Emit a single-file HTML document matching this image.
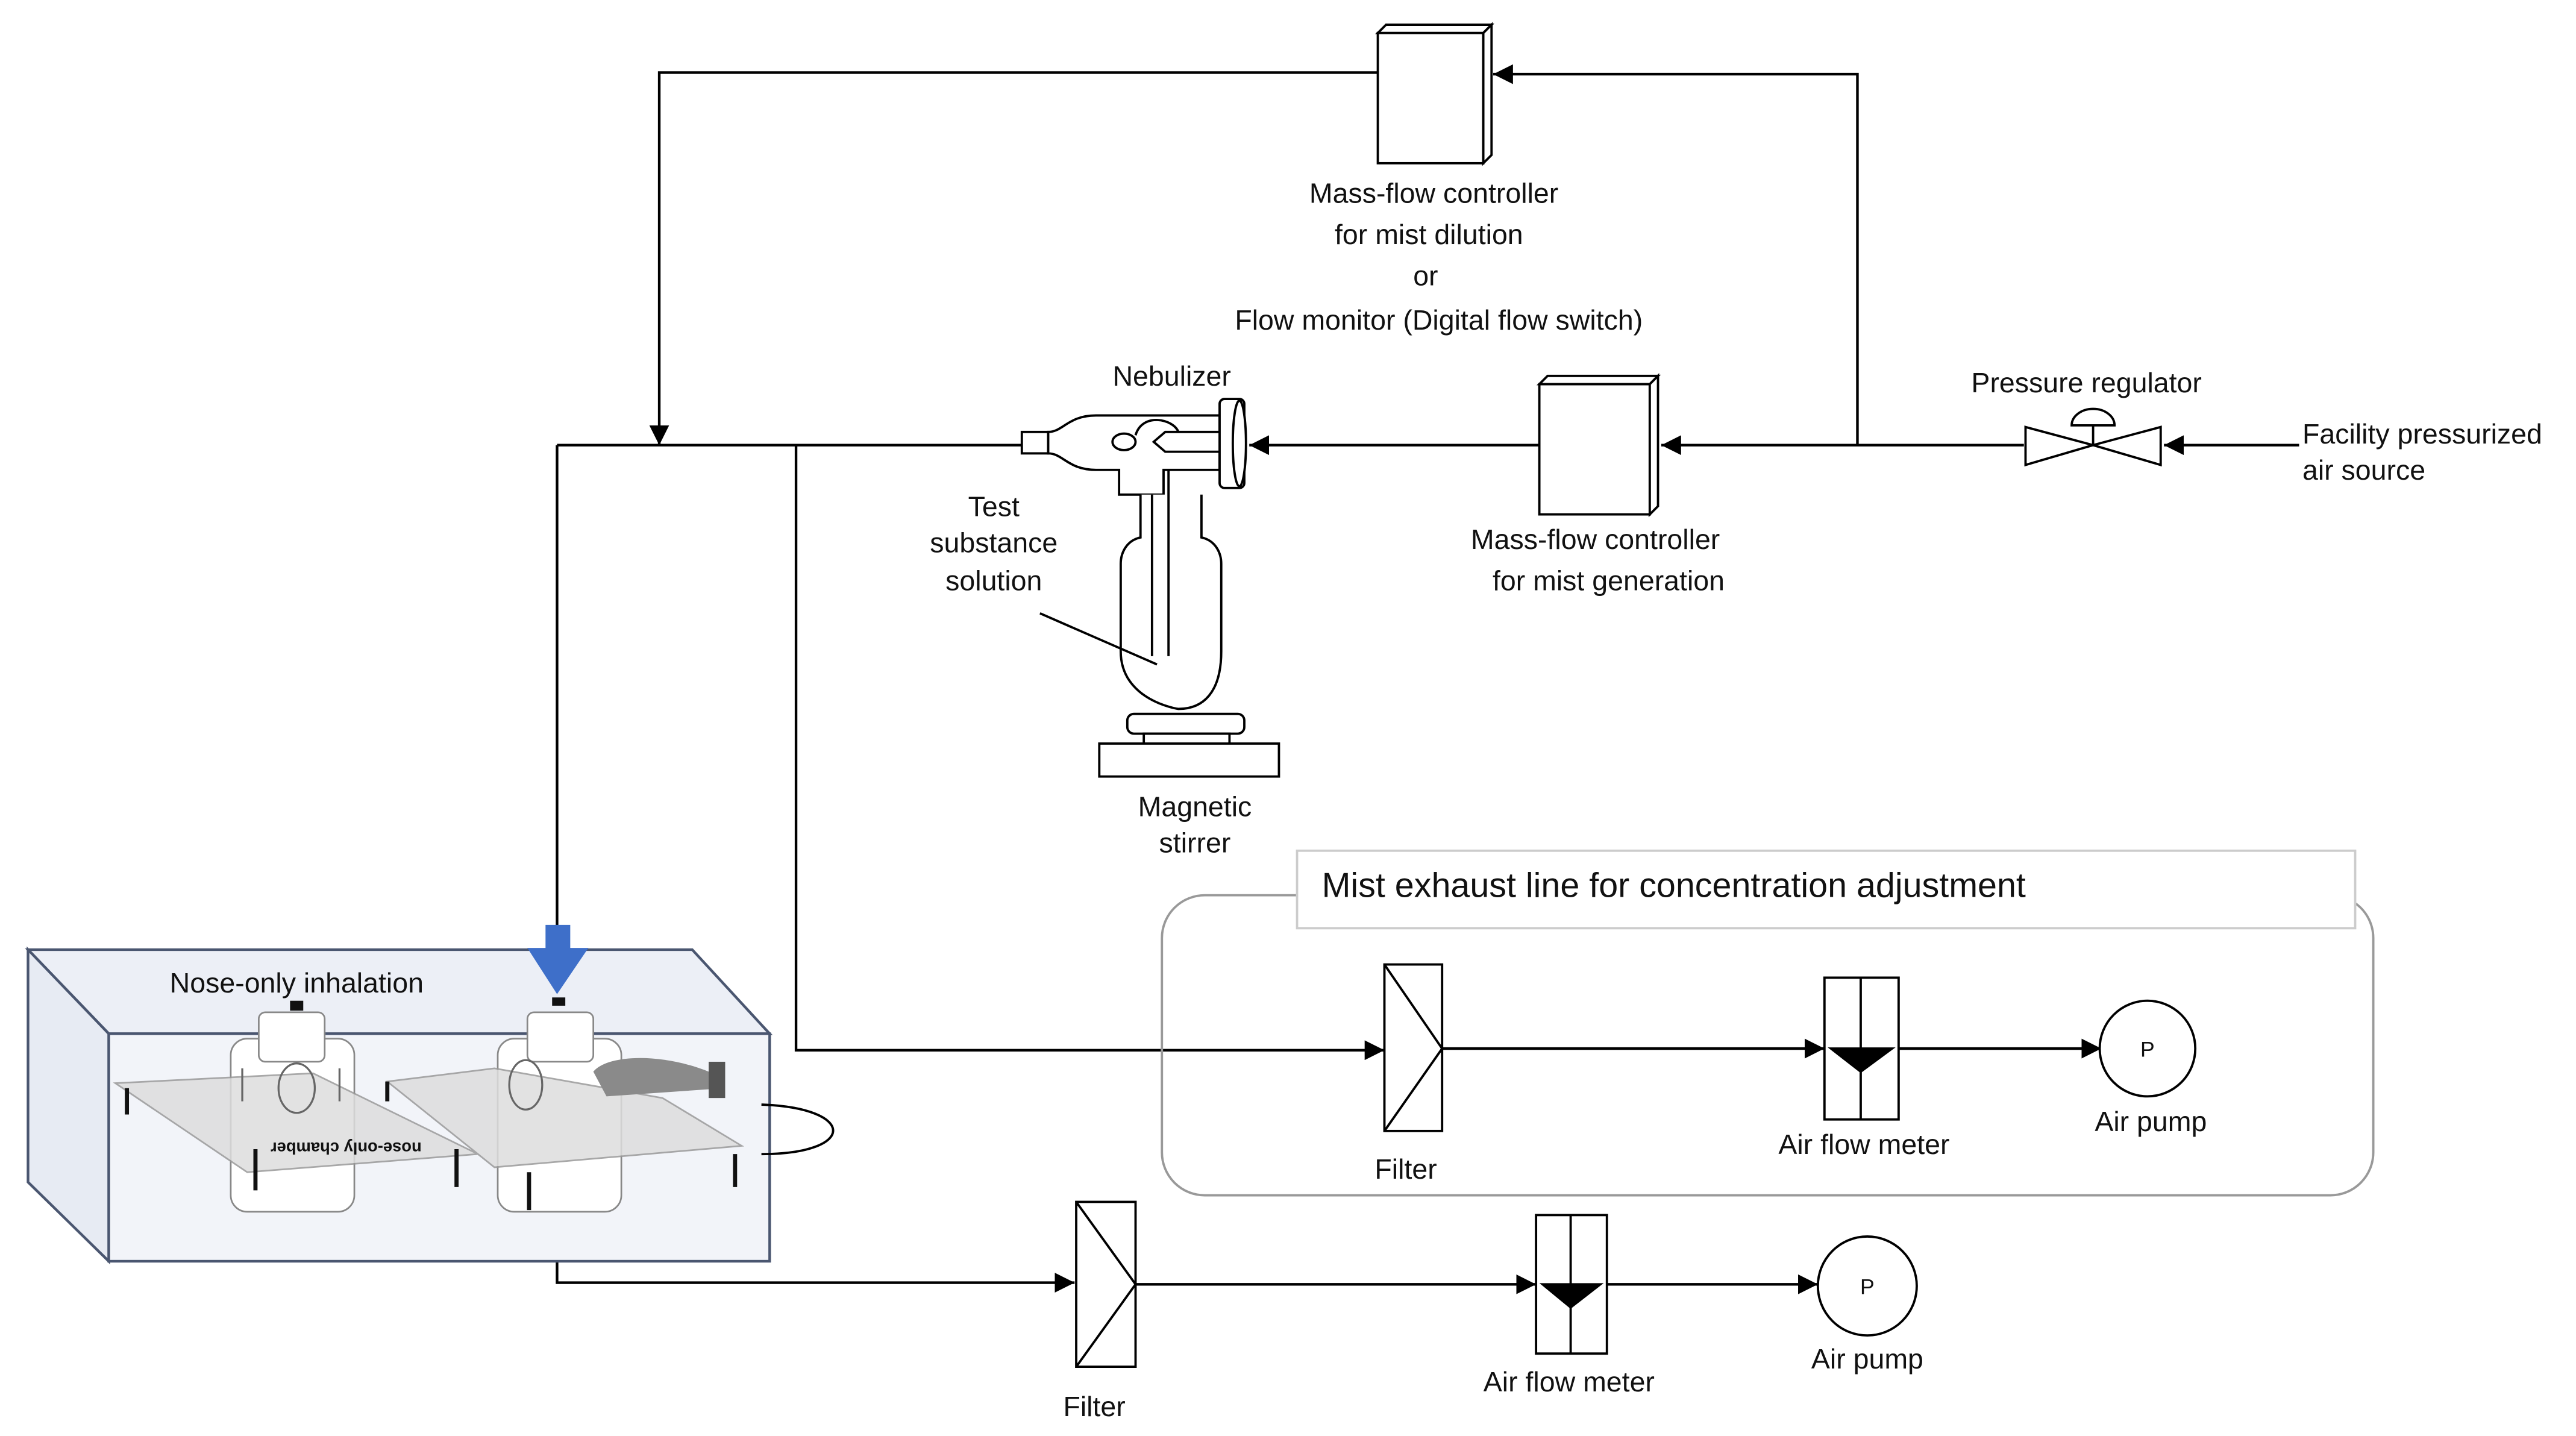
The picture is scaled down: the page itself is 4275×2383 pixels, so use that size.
<!DOCTYPE html>
<html><head><meta charset="utf-8"><style>
html,body{margin:0;padding:0;background:#fff}
svg{display:block}
text{font-family:"Liberation Sans",Arial,sans-serif;fill:#111}
</style></head><body>
<svg width="4275" height="2383" viewBox="0 0 1563 871" preserveAspectRatio="none" xmlns="http://www.w3.org/2000/svg">
<defs>
<marker id="a" viewBox="0 0 10 10" refX="10" refY="5" markerWidth="12" markerHeight="12" markerUnits="userSpaceOnUse" orient="auto"><path d="M0,0 L10,5 L0,10 z" fill="#000"/></marker>
</defs>
<g stroke="#000" stroke-width="1.6" fill="none">
<!-- top loop -->
<polyline points="836,44 400,44 400,270" marker-end="url(#a)"/>
<polyline points="1127,270 1127,45 906,45" marker-end="url(#a)"/>
<line x1="1395" y1="270" x2="1313" y2="270" marker-end="url(#a)"/>
<line x1="1228" y1="270" x2="1008" y2="270" marker-end="url(#a)"/>
<line x1="934" y1="270" x2="758" y2="270" marker-end="url(#a)"/>
<line x1="620" y1="270" x2="338" y2="270"/>
<line x1="338" y1="270" x2="338" y2="562"/>
<polyline points="483,270 483,637 840,637" marker-end="url(#a)"/>
<line x1="875" y1="636" x2="1107" y2="636" marker-end="url(#a)"/>
<line x1="1152" y1="636" x2="1275" y2="636" marker-end="url(#a)"/>
<polyline points="338,745 338,778 652,778" marker-end="url(#a)"/>
<line x1="689" y1="779" x2="932" y2="779" marker-end="url(#a)"/>
<line x1="975" y1="779" x2="1103" y2="779" marker-end="url(#a)"/>
</g>
<!-- MFC boxes -->
<g stroke="#000" stroke-width="1.4" fill="#fff">
<rect x="836" y="20" width="64" height="79"/>
<polygon points="836,20 841,15 905,15 900,20" />
<polygon points="900,20 905,15 905,94 900,99"/>
<rect x="934" y="233" width="67" height="79"/>
<polygon points="934,233 939,228 1006,228 1001,233"/>
<polygon points="1001,233 1006,228 1006,307 1001,312"/>
</g>
<!-- regulator -->
<g stroke="#000" stroke-width="1.4" fill="#fff">
<polygon points="1229,259 1229,282 1270,270"/>
<polygon points="1311,259 1311,282 1270,270"/>
<line x1="1270" y1="270" x2="1270" y2="258"/>
<path d="M1257,258 A13,10 0 0 1 1283,258 Z"/>
</g>
<!-- nebulizer -->
<g stroke="#000" stroke-width="1.4" fill="#fff">
<rect x="620" y="262" width="16" height="13"/>
<path d="M636,262 C645,262 648,252 665,252 L740,252 L740,285 L706,285 L706,300 L679,300 L679,285 L665,285 C648,285 645,275 636,275 Z"/>
<ellipse cx="682" cy="268" rx="7" ry="5"/>
<path d="M740,262 L707,262 L700,268 L707,274 L740,274"/>
<path d="M689,264 C693,250 712,254 715,262" fill="none"/>
<rect x="740" y="242" width="15" height="54" rx="3"/>
<ellipse cx="752" cy="269" rx="4" ry="26"/>
<path d="M692,300 L692,326 C683,328 680,336 680,342 L680,395 C680,425 715,430 715,430 C730,430 741,420 741,395 L741,342 C741,336 738,328 729,326 L729,300"/>
<line x1="699" y1="300" x2="699" y2="398"/>
<line x1="709" y1="285" x2="709" y2="398"/>
<rect x="684" y="433" width="71" height="12" rx="4"/>
<rect x="694" y="445" width="52" height="6"/>
<rect x="667" y="451" width="109" height="20"/>
</g>
<line x1="631" y1="372" x2="702" y2="403" stroke="#000" stroke-width="1.4"/>
<!-- exhaust box -->
<rect x="705" y="543" width="735" height="182" rx="26" fill="none" stroke="#999" stroke-width="1.4"/>
<rect x="787" y="516" width="642" height="47" fill="#fff" stroke="#ccc" stroke-width="1.4"/>
<!-- filters / meters / pumps -->
<g stroke="#000" stroke-width="1.4" fill="#fff">
<rect x="840" y="585" width="35" height="101"/>
<polyline points="840,585 875,636 840,686" fill="none"/>
<rect x="1107" y="593" width="45" height="86"/>
<line x1="1129" y1="593" x2="1129" y2="679"/>
<polygon points="1111,636 1148,636 1129,650" fill="#000"/>
<circle cx="1303" cy="636" r="29"/>
<rect x="653" y="729" width="36" height="100"/>
<polyline points="653,729 689,779 653,829" fill="none"/>
<rect x="932" y="737" width="43" height="84"/>
<line x1="953" y1="737" x2="953" y2="821"/>
<polygon points="936,779 971,779 953,793" fill="#000"/>
<circle cx="1133" cy="780" r="30"/>
</g>
<text x="1303" y="641" font-size="13" text-anchor="middle" font-family="Liberation Serif">P</text>
<text x="1133" y="785" font-size="13" text-anchor="middle" font-family="Liberation Serif">P</text>
<!-- chamber -->
<g stroke="#4a5670" stroke-width="1.6">
<polygon points="17,576 420,576 467,627 66,627" fill="#eceff6"/>
<polygon points="17,576 66,627 66,765 17,717" fill="#e7ebf3"/>
<rect x="66" y="627" width="401" height="138" fill="#f2f4f9"/>
</g>
<g stroke="#888" stroke-width="1" fill="#fff">
<rect x="140" y="630" width="75" height="105" rx="10"/>
<rect x="157" y="614" width="40" height="30" rx="4"/>
<rect x="302" y="630" width="75" height="105" rx="10"/>
<rect x="320" y="614" width="40" height="30" rx="4"/>
</g>
<g stroke="#999" stroke-width="1" fill="#ddd" opacity="0.85">
<polygon points="70,657 190,651 290,700 150,711"/>
<polygon points="235,656 300,648 402,666 450,695 300,708"/>
</g>
<g fill="none" stroke="#666" stroke-width="1.2">
<ellipse cx="180" cy="660" rx="11" ry="15"/>
<ellipse cx="319" cy="658" rx="10" ry="15"/>
<line x1="147" y1="648" x2="147" y2="668"/><line x1="206" y1="648" x2="206" y2="668"/>
</g>
<g stroke="#111" stroke-width="2.5">
<line x1="77" y1="660" x2="77" y2="676"/><line x1="155" y1="697" x2="155" y2="722"/>
<line x1="277" y1="697" x2="277" y2="720"/><line x1="235" y1="656" x2="235" y2="668"/>
<line x1="446" y1="700" x2="446" y2="720"/><line x1="321" y1="711" x2="321" y2="734"/>
</g>
<path d="M360,650 C368,640 400,638 430,650 L440,660 L368,665 Z" fill="#8a8a8a"/>
<rect x="430" y="644" width="10" height="22" fill="#555"/>
<path d="M462,670 C520,672 520,700 462,700" fill="none" stroke="#000" stroke-width="1.4"/>
<text x="210" y="699" font-size="10" fill="#333" text-anchor="middle" transform="rotate(180 210 696)" style="font-weight:bold">nose-only chamber</text>
<polygon points="331,561 346,561 346,575 357,575 338,603 320,575 331,575" fill="#3e6fc9"/>
<rect x="335" y="605" width="8" height="5" fill="#111"/>
<rect x="176" y="607" width="8" height="6" fill="#111"/>
<!-- labels -->
<g font-size="17">
<text x="870" y="123" text-anchor="middle">Mass-flow controller</text>
<text x="867" y="148" text-anchor="middle">for mist dilution</text>
<text x="865" y="173" text-anchor="middle">or</text>
<text x="873" y="200" text-anchor="middle">Flow monitor (Digital flow switch)</text>
<text x="711" y="234" text-anchor="middle">Nebulizer</text>
<text x="1266" y="238" text-anchor="middle">Pressure regulator</text>
<text x="1397" y="269">Facility pressurized</text>
<text x="1397" y="291">air source</text>
<text x="603" y="313" text-anchor="middle">Test</text>
<text x="603" y="335" text-anchor="middle">substance</text>
<text x="603" y="358" text-anchor="middle">solution</text>
<text x="968" y="333" text-anchor="middle">Mass-flow controller</text>
<text x="976" y="358" text-anchor="middle">for mist generation</text>
<text x="725" y="495" text-anchor="middle">Magnetic</text>
<text x="725" y="517" text-anchor="middle">stirrer</text>
<text x="802" y="544" font-size="21">Mist exhaust line for concentration adjustment</text>
<text x="180" y="602" text-anchor="middle">Nose-only inhalation</text>
<text x="853" y="715" text-anchor="middle">Filter</text>
<text x="1131" y="700" text-anchor="middle">Air flow meter</text>
<text x="1305" y="686" text-anchor="middle">Air pump</text>
<text x="664" y="859" text-anchor="middle">Filter</text>
<text x="952" y="844" text-anchor="middle">Air flow meter</text>
<text x="1133" y="830" text-anchor="middle">Air pump</text>
</g>
</svg>
</body></html>
